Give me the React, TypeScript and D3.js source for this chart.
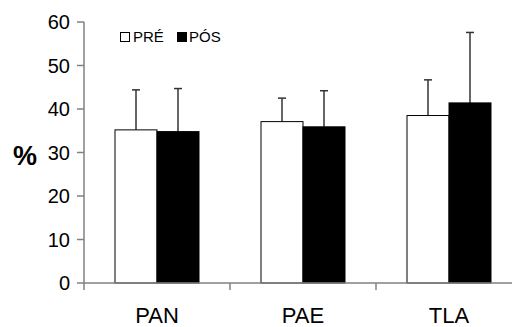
import React from "react";
import * as d3 from "d3";

const categories = ["PAN", "PAE", "TLA"];
const series = ["PRÉ", "PÓS"];
const preValues = [35.2, 37.1, 38.5];
const preErrors = [9.2, 5.4, 8.2];
const posValues = [34.8, 35.9, 41.4];
const posErrors = [9.9, 8.3, 16.2];
const yTicks = [0, 10, 20, 30, 40, 50, 60];

const W = 512;
const H = 327;
const x0 = 84;
const band = 146;
const fills = ["#ffffff", "#000000"];

export default function App() {
  const y = d3.scaleLinear().domain([0, 60]).range([283, 22]);
  const x = d3
    .scaleBand()
    .domain(categories)
    .range([x0, x0 + band * categories.length])
    .paddingInner(0)
    .paddingOuter(0);
  const inner = d3
    .scaleBand()
    .domain(series)
    .range([0, 84]);
  const values = [preValues, posValues];
  const errors = [preErrors, posErrors];
  const font = "Liberation Sans, Arial, sans-serif";

  return (
    <svg
      width={W}
      height={H}
      style={{ position: "absolute", left: 0, top: 0, background: "#fff" }}
      fontFamily={font}
    >
      {/* y axis */}
      <line x1={x0} x2={x0} y1={y(60)} y2={y(0)} stroke="#808080" strokeWidth={1.5} />
      {yTicks.map(t => (
        <g key={t}>
          <line x1={x0 - 7} x2={x0} y1={y(t)} y2={y(t)} stroke="#808080" strokeWidth={1.5} />
          <text x={70} y={y(t)} dy="0.36em" textAnchor="end" fontSize={20} fill="#000">
            {t}
          </text>
        </g>
      ))}
      <text x={25} y={155} dy="0.36em" textAnchor="middle" fontSize={27} fontWeight="bold">
        %
      </text>

      {/* bars */}
      {categories.map((c, i) => {
        const cx = (x(c) as number) + band / 2 - 42;
        return (
          <g key={c}>
            {series.map((s, j) => {
              const bx = cx + (inner(s) as number);
              const bw = inner.bandwidth();
              const v = values[j][i];
              const top = y(v + errors[j][i]);
              const mid = bx + bw / 2;
              return (
                <g key={s}>
                  <line x1={mid} x2={mid} y1={y(v)} y2={top} stroke="#000" strokeWidth={1.2} />
                  <line x1={mid - 4} x2={mid + 4} y1={top} y2={top} stroke="#333" strokeWidth={1.5} />
                  <rect
                    x={bx}
                    y={y(v)}
                    width={bw}
                    height={y(0) - y(v)}
                    fill={fills[j]}
                    stroke="#000"
                    strokeWidth={1}
                  />
                </g>
              );
            })}
          </g>
        );
      })}

      {/* x axis */}
      <line x1={x0} x2={x0 + band * 3} y1={y(0)} y2={y(0)} stroke="#808080" strokeWidth={1.5} />
      {d3.range(categories.length + 1).map(k => (
        <line
          key={k}
          x1={x0 + band * k}
          x2={x0 + band * k}
          y1={y(0)}
          y2={y(0) + 7}
          stroke="#808080"
          strokeWidth={1.5}
        />
      ))}
      {categories.map(c => (
        <text
          key={c}
          x={(x(c) as number) + band / 2}
          y={323}
          textAnchor="middle"
          fontSize={22}
          fill="#000"
        >
          {c}
        </text>
      ))}

      {/* legend */}
      <rect x={120.5} y={32.5} width={9} height={9} fill="#fff" stroke="#000" strokeWidth={1} />
      <text x={133} y={42} fontSize={15}>
        {series[0]}
      </text>
      <rect x={177.5} y={32.5} width={9} height={9} fill="#000" stroke="#000" strokeWidth={1} />
      <text x={189} y={42} fontSize={15}>
        {series[1]}
      </text>
    </svg>
  );
}
